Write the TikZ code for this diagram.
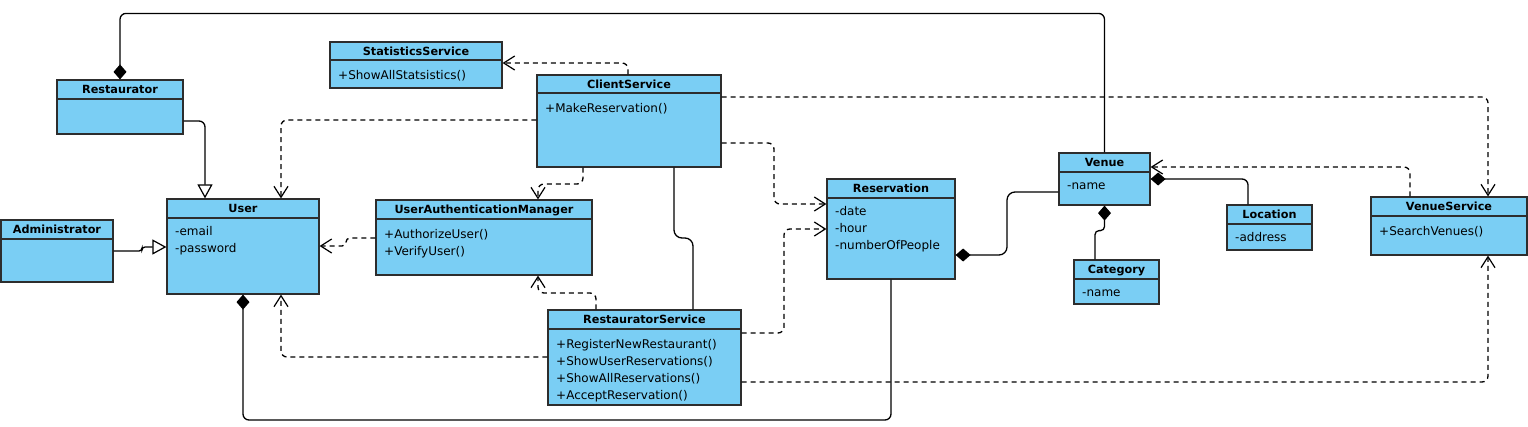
\documentclass[tikz,border=0pt]{standalone}
\usepackage{fontspec}
\setmainfont{DejaVu Sans}
\usetikzlibrary{arrows.meta,fit,calc}
\definecolor{umlfill}{RGB}{122,206,244}
\definecolor{umledge}{RGB}{45,45,45}
\newcommand\umlclass[7]{%
  \node[clsbox, fit={(#2,#3) (#4,#5)}] (#1) {};
  \draw[clsline] (#2,#6) -- (#4,#6);
  \node[clstitle, anchor=base] (#1-title) at ({(#2+#4)/2},{(#3+#6)/2+4.1}) {#7};
}
\newcommand\umlrows[4]{%
  \foreach \rowtext [count=\rowi] in {#4}{%
    \node[clsattr, anchor=base west] (#1-r\rowi) at (#2, #3+17*\rowi-17) {\rowtext};}%
}
\begin{document}
\begin{tikzpicture}[x=1pt,y=-1pt,
  clsbox/.style={draw=umledge, fill=umlfill, line width=1.2pt, inner sep=0pt},
  clsline/.style={draw=umledge, line width=1.2pt},
  clstitle/.style={font=\bfseries\fontsize{11.25}{13}\selectfont, inner sep=0pt},
  clsattr/.style={font=\fontsize{12}{14}\selectfont, inner sep=0pt},
  conn/.style={line width=1.3pt, rounded corners=6pt},
  dep/.style={conn, dash pattern=on 5pt off 4pt, -{Straight Barb[length=11pt,width=14pt,line width=1.2pt]}},
  gen/.style={conn, -{Triangle[open,length=14pt,width=15pt,line width=1.2pt]}},
  comp/.style={conn, {Diamond[length=15pt,width=13pt]}-},
  assoc/.style={conn}]
\useasboundingbox (0,0) rectangle (1528,426);

% classes
\umlclass{Restaurator}{57}{80}{183}{134}{99}{Restaurator}
\umlclass{StatisticsService}{330}{42}{502}{88}{60}{StatisticsService}
\umlrows{StatisticsService}{338}{79}{+ShowAllStatsistics()}
\umlclass{User}{167}{199}{319}{294}{218}{User}
\umlrows{User}{175}{235.3}{-email,-password}
\umlclass{Administrator}{1}{220}{113}{282}{239}{Administrator}
\umlclass{UAM}{376}{200}{592}{275}{219}{UserAuthenticationManager}
\umlrows{UAM}{384}{238.8}{+AuthorizeUser(),+VerifyUser()}
\umlclass{ClientService}{537}{75}{721}{167}{93}{ClientService}
\umlrows{ClientService}{545}{112.8}{+MakeReservation()}
\umlclass{RestauratorService}{548}{310}{741}{405}{329}{RestauratorService}
\umlrows{RestauratorService}{556}{348.5}{+RegisterNewRestaurant(),+ShowUserReservations(),+ShowAllReservations(),+AcceptReservation()}
\umlclass{Reservation}{827}{179}{955}{279}{198}{Reservation}
\umlrows{Reservation}{835}{215.3}{-date,-hour,-numberOfPeople}
\umlclass{Venue}{1059}{153}{1150}{205}{172}{Venue}
\umlrows{Venue}{1067}{189.3}{-name}
\umlclass{Category}{1074}{260}{1159}{304}{279}{Category}
\umlrows{Category}{1082}{296.3}{-name}
\umlclass{Location}{1227}{205}{1312}{250}{224}{Location}
\umlrows{Location}{1235}{241.3}{-address}
\umlclass{VenueService}{1371}{197}{1527}{255}{216}{VenueService}
\umlrows{VenueService}{1379}{235.8}{+SearchVenues()}

% connectors
\draw[comp] (Restaurator.north) -- ++(0,-66) -| (Venue.north);
\draw[gen] (Restaurator.east |- 0,121) -| (205,0 |- User.north);
\draw[gen, rounded corners=3pt] (Administrator.east |- 0,251) -- (142,251) -- (142,247) -- (User.west |- 0,247);
\draw[dep] (ClientService.west |- 0,120) -| (281,0 |- User.north);
\draw[dep] (628,0 |- ClientService.north) |- (StatisticsService.east |- 0,63);
\draw[dep] (583,0 |- ClientService.south) -- (583,184) -| (538,0 |- UAM.north);
\draw[dep, rounded corners=4pt] (UAM.west |- 0,238) -- (346,238) -- (346,246) -- (User.east |- 0,246);
\draw[dep] (ClientService.east |- 0,143) -| (774,204) -- (Reservation.west |- 0,204);
\draw[dep] (ClientService.east |- 0,97) -| (1488,0 |- VenueService.north);
\draw[assoc, rounded corners=8pt] (674,0 |- ClientService.south) -- (674,238) -- (693,238) -- (693,0 |- RestauratorService.north);
\draw[dep] (596,0 |- RestauratorService.north) -- (596,293) -| (538,0 |- UAM.south);
\draw[dep] (RestauratorService.west |- 0,357) -| (281,0 |- User.south);
\draw[dep] (RestauratorService.east |- 0,333) -| (784,229) -- (Reservation.west |- 0,229);
\draw[dep] (RestauratorService.east |- 0,382) -| (1488,0 |- VenueService.south);
\draw[comp] (User.south) |- (Reservation.south |- 0,420) -- (Reservation.south);
\draw[comp, rounded corners=8pt] (Reservation.east |- 0,255) -| (1007,192) -- (Venue.west |- 0,192);
\draw[comp, rounded corners=4pt] (Venue.south) -- ++(0,25) -| (1095,0 |- Category.north);
\draw[comp] (Venue.east |- 0,179) -| (1248,0 |- Location.north);
\draw[dep] (1410,0 |- VenueService.north) |- (Venue.east |- 0,167);
\end{tikzpicture}
\end{document}
